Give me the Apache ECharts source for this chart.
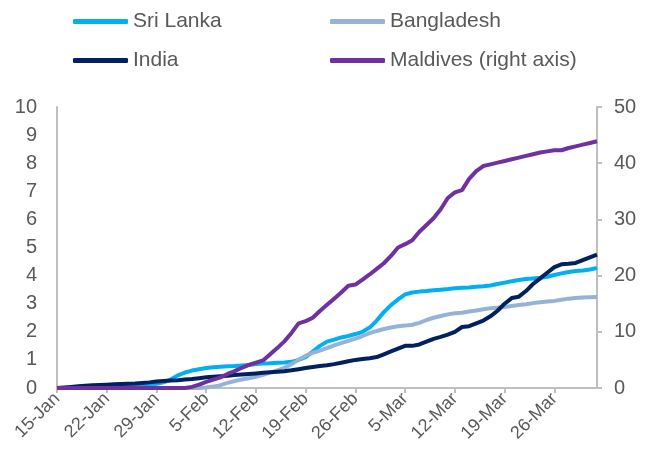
<!DOCTYPE html>
<html>
<head>
<meta charset="utf-8">
<script src="https://cdn.jsdelivr.net/npm/echarts@6/dist/echarts.min.js"></script>
<style>
html, body { margin: 0; padding: 0; background: #fff; }
#chart { width: 650px; height: 465px; }
</style>
</head>
<body>
<div id="chart"></div>
<script>
// daily categories 15-Jan .. 1-Apr
const monthNames = ['Jan', 'Feb', 'Mar', 'Apr'];
const monthDays = [31, 28, 31, 30];
const startDay = 15;
const dayCount = 77;

const leftTicks = [0, 10, 1];   // min, max, step
const rightTicks = [0, 50, 10];

const sriLanka = [
  0, 0, 0.01, 0.02, 0.03, 0.04, 0.05, 0.06, 0.07, 0.08, 0.09, 0.1, 0.11, 0.12,
  0.15, 0.2, 0.3, 0.45, 0.55, 0.62, 0.67, 0.71, 0.74, 0.76, 0.77, 0.78, 0.8, 0.82,
  0.85, 0.87, 0.88, 0.9, 0.91, 0.93, 1.0, 1.1, 1.3, 1.5, 1.65, 1.72, 1.8, 1.85,
  1.92, 2.0, 2.15, 2.4, 2.7, 2.95, 3.15, 3.33, 3.4, 3.43, 3.45, 3.48, 3.5, 3.52,
  3.55, 3.57, 3.58, 3.6, 3.62, 3.65, 3.7, 3.75, 3.8, 3.84, 3.88, 3.9, 3.92, 3.96,
  4.02, 4.08, 4.13, 4.16, 4.18, 4.22, 4.27
];
const bangladesh = [
  0, 0, 0, 0, 0, 0, 0, 0, 0, 0, 0, 0, 0, 0,
  0, 0, 0, 0, 0, 0, 0, 0.02, 0.05, 0.1, 0.18, 0.25, 0.3, 0.35,
  0.4, 0.47, 0.55, 0.63, 0.72, 0.85, 1.0, 1.15, 1.25, 1.33, 1.42, 1.52, 1.6, 1.68,
  1.76, 1.85, 1.95, 2.03, 2.1, 2.15, 2.2, 2.22, 2.25, 2.32, 2.42, 2.5, 2.56, 2.62,
  2.66, 2.68, 2.72, 2.76, 2.8, 2.84, 2.86, 2.88, 2.92, 2.95, 2.98, 3.02, 3.05, 3.08,
  3.1, 3.14, 3.18, 3.2, 3.22, 3.23, 3.24
];
const india = [
  0, 0.02, 0.04, 0.06, 0.08, 0.1, 0.11, 0.12, 0.13, 0.14, 0.15, 0.16, 0.18, 0.2,
  0.23, 0.25, 0.27, 0.28, 0.3, 0.32, 0.35, 0.38, 0.4, 0.42, 0.44, 0.46, 0.48, 0.5,
  0.52, 0.54, 0.56, 0.58, 0.6, 0.63, 0.67, 0.71, 0.75, 0.78, 0.81, 0.85, 0.9, 0.95,
  1.0, 1.03, 1.06, 1.1, 1.2, 1.3, 1.4, 1.5, 1.5, 1.55, 1.65, 1.75, 1.82, 1.9,
  2.0, 2.17, 2.2, 2.3, 2.4, 2.55, 2.75, 3.0, 3.2, 3.25, 3.45, 3.7, 3.9, 4.1,
  4.3, 4.4, 4.42, 4.45, 4.55, 4.65, 4.75
];
const maldives = [
  0, 0, 0, 0, 0, 0, 0, 0, 0, 0, 0, 0, 0, 0,
  0, 0, 0, 0, 0, 0.2, 0.6, 1.1, 1.5, 1.9, 2.5, 3.0, 3.6, 4.1,
  4.5, 4.9, 6.0, 7.1, 8.3, 9.8, 11.5, 11.9, 12.5, 13.7, 14.8, 15.9, 17.0, 18.2,
  18.4, 19.3, 20.2, 21.2, 22.2, 23.5, 25.0, 25.6, 26.3, 27.8, 29.0, 30.2, 31.8, 33.8,
  34.8, 35.2, 37.2, 38.6, 39.5, 39.8, 40.1, 40.4, 40.7, 41.0, 41.3, 41.6, 41.9, 42.1,
  42.3, 42.3, 42.7, 43.0, 43.3, 43.6, 43.9
];

function buildDates() {
  let out = [];
  let m = 0, d = startDay;
  for (let i = 0; i < dayCount; i++) {
    out.push(d + '-' + monthNames[m]);
    d++;
    if (d > monthDays[m]) { d = 1; m++; }
  }
  return out;
}
const dates = buildDates();

const font = 'Liberation Sans, Arial, sans-serif';
const textColor = '#595959';
const axisColor = '#bfbfbf';

const chart = echarts.init(document.getElementById('chart'));

function lineSeries(name, data, color, axis) {
  return {
    name: name,
    type: 'line',
    yAxisIndex: axis,
    data: data,
    symbol: 'none',
    lineStyle: { color: color, width: 4 },
    itemStyle: { color: color },
    animation: false
  };
}

const legendBase = {
  orient: 'vertical',
  top: 6,
  itemWidth: 55,
  itemHeight: 5,
  itemGap: 18,
  icon: 'roundRect',
  textStyle: { color: textColor, fontSize: 21, fontFamily: font }
};

chart.setOption({
  animation: false,
  legend: [
    Object.assign({}, legendBase, { left: 68, data: ['Sri Lanka', 'India'] }),
    Object.assign({}, legendBase, { left: 325, data: ['Bangladesh', 'Maldives (right axis)'] })
  ],
  grid: { left: 57, right: 53, top: 107, bottom: 77 },
  xAxis: {
    type: 'category',
    data: dates,
    boundaryGap: false,
    axisLine: { lineStyle: { color: axisColor, width: 2 } },
    axisTick: { interval: 6, length: 5, lineStyle: { color: axisColor, width: 2 } },
    axisLabel: {
      interval: 6, rotate: 45, color: textColor, fontSize: 18, fontFamily: font, margin: 8
    },
    splitLine: { show: false }
  },
  yAxis: [
    {
      type: 'value',
      min: leftTicks[0], max: leftTicks[1], interval: leftTicks[2],
      axisLine: { show: true, lineStyle: { color: axisColor, width: 2 } },
      axisTick: { show: false },
      axisLabel: { color: textColor, fontSize: 20, fontFamily: font, margin: 20 },
      splitLine: { show: false }
    },
    {
      type: 'value',
      position: 'right',
      min: rightTicks[0], max: rightTicks[1], interval: rightTicks[2],
      axisLine: { show: true, lineStyle: { color: axisColor, width: 2 } },
      axisTick: { show: true, length: 5, lineStyle: { color: axisColor, width: 2 } },
      axisLabel: { color: textColor, fontSize: 20, fontFamily: font, margin: 17 },
      splitLine: { show: false }
    }
  ],
  series: [
    lineSeries('Sri Lanka', sriLanka, '#00b0f0', 0),
    lineSeries('Bangladesh', bangladesh, '#95b3d7', 0),
    lineSeries('India', india, '#002060', 0),
    lineSeries('Maldives (right axis)', maldives, '#7030a0', 1)
  ]
});
</script>
</body>
</html>
